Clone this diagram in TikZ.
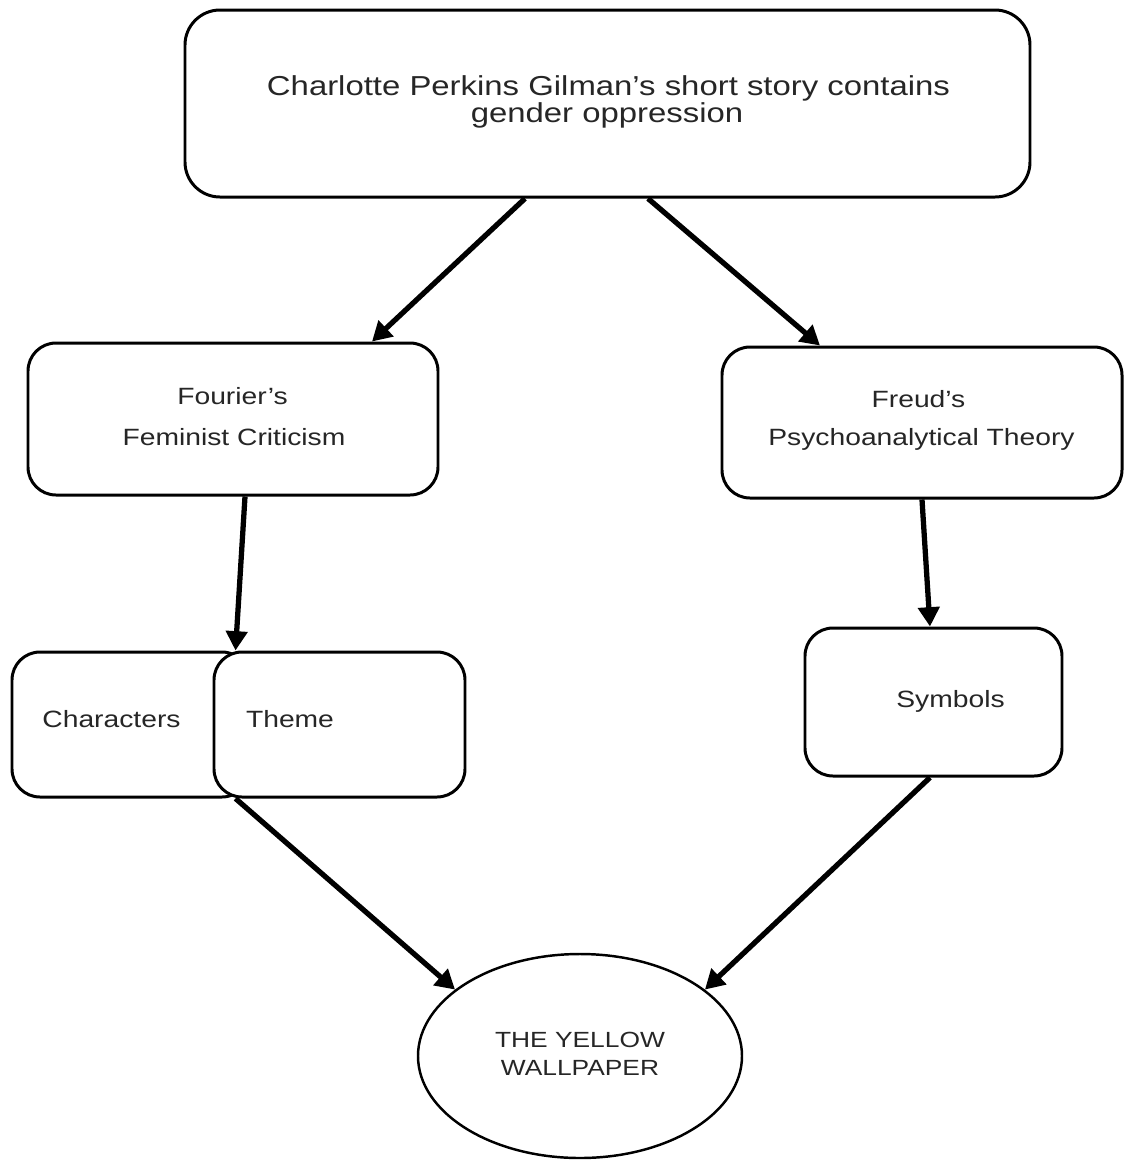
\documentclass[tikz,border=0pt]{standalone}
\usepackage{fontspec}
\setmainfont{Liberation Sans}[FakeStretch=1.2]
\usetikzlibrary{arrows.meta,shapes.geometric,calc}
\newlength\pxl
\setlength\pxl{0.02cm}
\begin{document}
\begin{tikzpicture}[x=0.02cm,y=-0.02cm,
  box/.style={draw=black,line width=1.7pt,rounded corners=28\pxl,fill=white,inner sep=0},
  lbl/.style={anchor=base,inner sep=0,text=black!85,font=\fontsize{13.4pt}{16pt}\selectfont},
  toplbl/.style={lbl,font=\fontsize{15.6pt}{18pt}\selectfont},
  ywlbl/.style={lbl,font=\fontsize{12.5pt}{15pt}\selectfont},
  conn/.style={line width=3pt,-{Triangle[length=11pt,width=12pt]}}
]
\useasboundingbox (0,0) rectangle (1126,1161);

% boxes
\node[box,rounded corners=35\pxl,minimum width=845\pxl,minimum height=187\pxl] (top) at (607.5,103.5) {};
\node[box,minimum width=410\pxl,minimum height=152\pxl] (four) at (233,419) {};
\node[box,minimum width=400\pxl,minimum height=151\pxl] (freud) at (922,422.5) {};
\node[box,minimum width=238\pxl,minimum height=145\pxl] (char) at (131,724.5) {};
\node[box,minimum width=251\pxl,minimum height=145\pxl] (theme) at (339.5,724.5) {};
\node[box,minimum width=257\pxl,minimum height=148\pxl] (sym) at (933.5,702) {};
\node[draw=black,line width=1.4pt,ellipse,fill=white,inner sep=0,minimum width=324\pxl,minimum height=204\pxl] (yw) at (580,1056) {};

% texts
\node[toplbl] (t1) at (608.5,95) {Charlotte Perkins Gilman’s short story contains};
\node[toplbl] (t2) at (607,122) {gender oppression};
\node[lbl] (f1) at (232.5,404) {Fourier’s};
\node[lbl] (f2) at (234,445) {Feminist Criticism};
\node[lbl] (p1) at (918.5,407) {Freud’s};
\node[lbl] (p2) at (921.5,445) {Psychoanalytical Theory};
\node[lbl] (c1) at (111.5,727) {Characters};
\node[lbl] (th1) at (290,727) {Theme};
\node[lbl] (s1) at (950.5,707) {Symbols};
\node[ywlbl] (y1) at (580,1047) {THE YELLOW};
\node[ywlbl] (y2) at (580,1075) {WALLPAPER};

% connectors
\draw[conn] ($(top.south)+(-82.5,0)$) -- ($(four.north)+(139,0)$);
\draw[conn] ($(top.south)+(40.5,0)$) -- ($(freud.north)+(-102,0)$);
\draw[conn] ($(four.south)+(12,0)$) -- ($(theme.north west)+(23,0)$);
\draw[conn] (freud.south) -- ($(sym.north)+(-3.5,0)$);
\draw[conn] ($(theme.south west)+(23,0)$) -- (yw.152);
\draw[conn] ($(sym.south)+(-3.5,0)$) -- (yw.28);
\end{tikzpicture}
\end{document}
